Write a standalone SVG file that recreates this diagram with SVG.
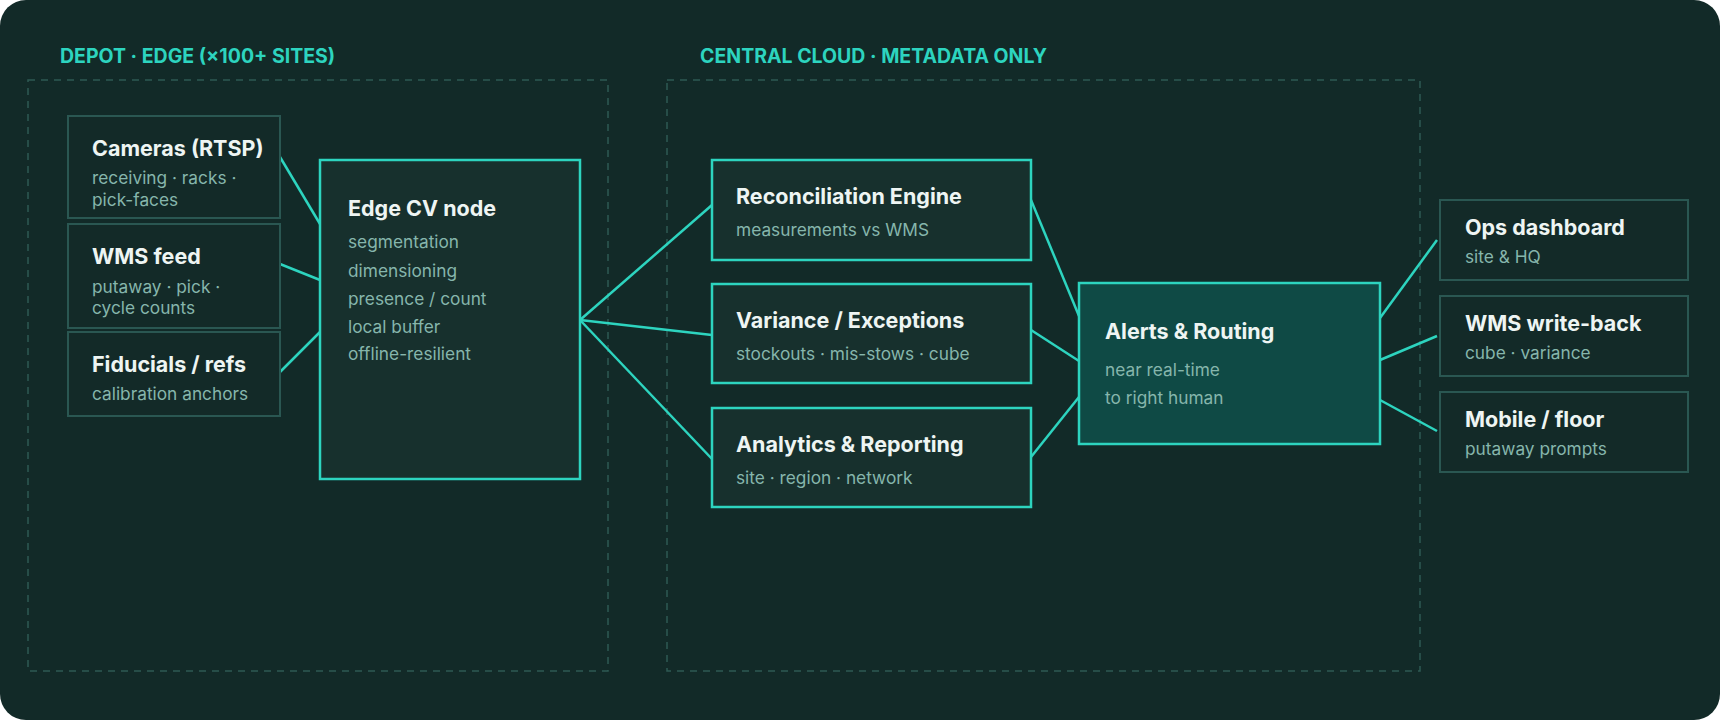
<svg xmlns="http://www.w3.org/2000/svg" width="1720" height="720" viewBox="0 0 1720 720">
<style>
.lbl{font-family:Inter,"Noto Sans",sans-serif;font-weight:700;font-size:19.5px;fill:#2dd4bf}
.zone{fill:none;stroke:#2e5a53;stroke-width:1.5;stroke-dasharray:7 6}
.box{fill:#132a28;stroke:#2a5752;stroke-width:2}
.hi{fill:#17302d;stroke:#2dd4bf;stroke-width:2.5}
.al{fill:#0f4a45;stroke:#2dd4bf;stroke-width:2.5}
.t{font-family:Inter,"Noto Sans",sans-serif;font-weight:700;font-size:21.5px;fill:#eef5f3}
.s{font-family:Inter,"Noto Sans",sans-serif;font-size:17.3px;fill:#86b6ac}
.c line{stroke:#2dd4bf;stroke-width:2.5}
</style>
<rect x="0" y="0" width="1720" height="720" rx="26" fill="#122a28"/>
<text class="lbl" x="60" y="63">DEPOT · EDGE (×100+ SITES)</text>
<rect class="zone" x="28" y="80" width="580" height="591"/>
<text class="lbl" x="700" y="63">CENTRAL CLOUD · METADATA ONLY</text>
<rect class="zone" x="667" y="80" width="753" height="591"/>
<g class="c">
<line x1="280" y1="157" x2="320" y2="224"/>
<line x1="280" y1="264" x2="320" y2="280"/>
<line x1="280" y1="372" x2="320" y2="332"/>
<line x1="580" y1="320" x2="712" y2="205"/>
<line x1="580" y1="320" x2="712" y2="335"/>
<line x1="580" y1="320" x2="712" y2="459"/>
<line x1="1031" y1="200" x2="1079" y2="316"/>
<line x1="1031" y1="330" x2="1079" y2="361"/>
<line x1="1031" y1="457" x2="1079" y2="397"/>
<line x1="1380" y1="318" x2="1437" y2="240"/>
<line x1="1380" y1="360" x2="1437" y2="336"/>
<line x1="1380" y1="400" x2="1437" y2="431"/>
</g>
<g id="cameras"><rect class="box" x="68" y="116" width="212" height="102"/><text class="t" x="92" y="156">Cameras (RTSP)</text><text class="s" x="92" y="184">receiving · racks ·</text><text class="s" x="92" y="206">pick-faces</text></g>
<g id="wms-feed"><rect class="box" x="68" y="224" width="212" height="104"/><text class="t" x="92" y="264">WMS feed</text><text class="s" x="92" y="293">putaway · pick ·</text><text class="s" x="92" y="314">cycle counts</text></g>
<g id="fiducials"><rect class="box" x="68" y="332" width="212" height="84"/><text class="t" x="92" y="372">Fiducials / refs</text><text class="s" x="92" y="400">calibration anchors</text></g>
<g id="edge-cv"><rect class="hi" x="320" y="160" width="260" height="319"/><text class="t" x="348" y="216">Edge CV node</text><text class="s" x="348" y="248">segmentation</text><text class="s" x="348" y="277">dimensioning</text><text class="s" x="348" y="305">presence / count</text><text class="s" x="348" y="333">local buffer</text><text class="s" x="348" y="360">offline-resilient</text></g>
<g id="recon"><rect class="hi" x="712" y="160" width="319" height="100"/><text class="t" x="736" y="204">Reconciliation Engine</text><text class="s" x="736" y="236">measurements vs WMS</text></g>
<g id="variance"><rect class="hi" x="712" y="284" width="319" height="99"/><text class="t" x="736" y="328">Variance / Exceptions</text><text class="s" x="736" y="360">stockouts · mis-stows · cube</text></g>
<g id="analytics"><rect class="hi" x="712" y="408" width="319" height="99"/><text class="t" x="736" y="452">Analytics &amp; Reporting</text><text class="s" x="736" y="484">site · region · network</text></g>
<g id="alerts"><rect class="al" x="1079" y="283" width="301" height="161"/><text class="t" x="1105" y="339">Alerts &amp; Routing</text><text class="s" x="1105" y="376">near real-time</text><text class="s" x="1105" y="404">to right human</text></g>
<g id="ops"><rect class="box" x="1440" y="200" width="248" height="80"/><text class="t" x="1465" y="235">Ops dashboard</text><text class="s" x="1465" y="263">site &amp; HQ</text></g>
<g id="wms-wb"><rect class="box" x="1440" y="296" width="248" height="80"/><text class="t" x="1465" y="331">WMS write-back</text><text class="s" x="1465" y="359">cube · variance</text></g>
<g id="mobile"><rect class="box" x="1440" y="392" width="248" height="80"/><text class="t" x="1465" y="427">Mobile / floor</text><text class="s" x="1465" y="455">putaway prompts</text></g>
</svg>
